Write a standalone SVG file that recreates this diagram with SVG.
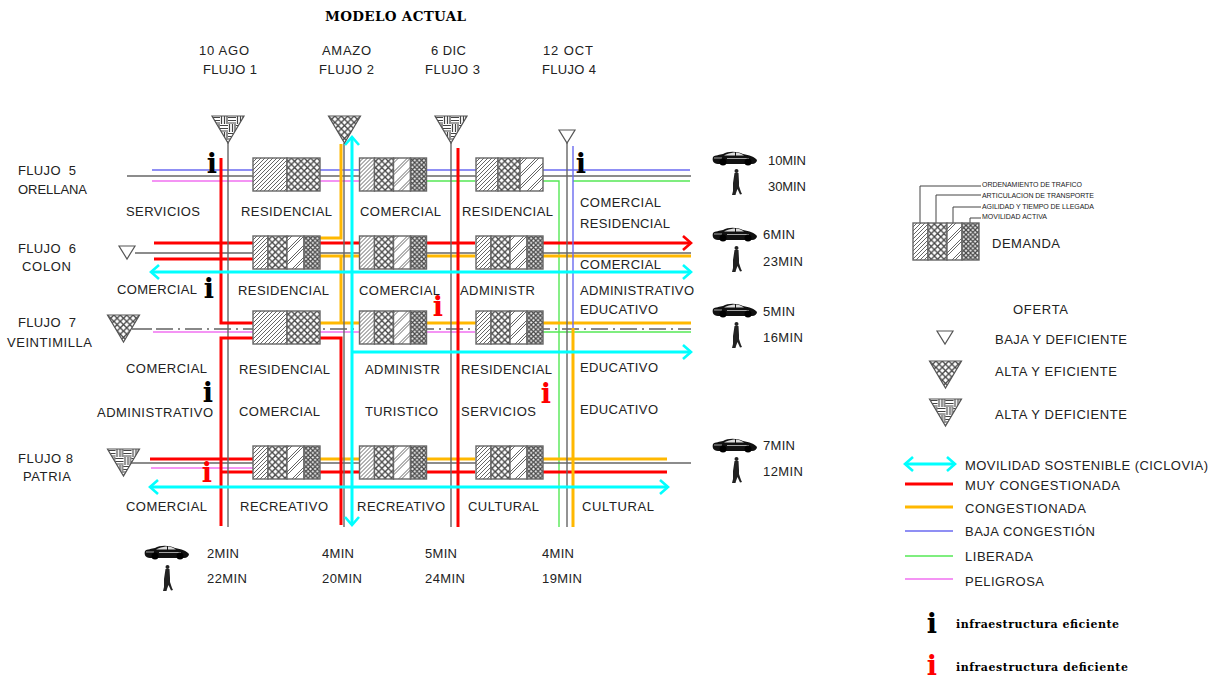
<svg xmlns="http://www.w3.org/2000/svg" width="1219" height="678" viewBox="0 0 1219 678">
<style>
text{font-family:"Liberation Sans",Arial,sans-serif;font-size:13px;fill:#222}
.ti{font-family:"DejaVu Serif","Liberation Serif",serif;font-weight:bold;font-size:11px;fill:#000}
.tt{font-size:13.5px}
.i{font-family:"DejaVu Serif","Liberation Serif",serif;font-weight:bold;font-size:27px;text-anchor:middle;fill:#000}
.ir{fill:#f00}
.sm{font-size:7px}
.l{fill:none}
.g{stroke:#666;stroke-width:1.4}
.gt{stroke:#888;stroke-width:2}
.r{stroke:#f00;stroke-width:3}
.o{stroke:#ffb800;stroke-width:3}
.c{stroke:#0ff;stroke-width:3}
.b{stroke:#6a6af0;stroke-width:1.4}
.v{stroke:#55e855;stroke-width:1.4}
.m{stroke:#f070f0;stroke-width:1.4}
.box{stroke:#666;stroke-width:1.4}
.tri{stroke:#555;stroke-width:1.2}
.ld{stroke:#444;stroke-width:1}
</style>
<defs>
<pattern id="hatch" width="4" height="4" patternUnits="userSpaceOnUse"><rect width="4" height="4" fill="#fff"/><path d="M-1 1L1 -1M0 4L4 0M3 5L5 3" stroke="#666" stroke-width="1"/></pattern>
<pattern id="wide" width="12" height="12" patternUnits="userSpaceOnUse"><rect width="12" height="12" fill="#fff"/><path d="M-1 1L1 -1M-1 13L13 -1M11 13L13 11M-1 4L4 -1M2 13L13 2" stroke="#666" stroke-width="1"/></pattern>
<pattern id="cross" width="6.400" height="6.400" patternUnits="userSpaceOnUse"><rect width="6.400" height="6.400" fill="#fff"/><path d="M0 0L6.400 6.400M0 6.400L6.400 0" stroke="#444" stroke-width="1.300"/></pattern>
<pattern id="dense" width="4.600" height="4.600" patternUnits="userSpaceOnUse"><rect width="4.600" height="4.600" fill="#eee"/><path d="M0 0L4.600 4.600M0 4.600L4.600 0" stroke="#444" stroke-width="1.200"/></pattern>
<pattern id="basket" width="16" height="16" patternUnits="userSpaceOnUse"><rect width="16" height="16" fill="#fff"/><path d="M0 1.500H8M0 4.500H8M0 7H8M9.500 0V8M12.500 0V8M15 0V8M1.500 8V16M4.500 8V16M7 8V16M8 9.500H16M8 12.500H16M8 15H16" stroke="#444" stroke-width="1.200"/></pattern>
<marker id="ar" markerUnits="userSpaceOnUse" markerWidth="14" markerHeight="18" viewBox="0 0 14 18" refX="12" refY="9" orient="auto-start-reverse"><path d="M4 2L12 9L4 16" fill="none" stroke="#f00" stroke-width="2.600"/></marker>
<marker id="ac" markerUnits="userSpaceOnUse" markerWidth="14" markerHeight="18" viewBox="0 0 14 18" refX="12" refY="9" orient="auto-start-reverse"><path d="M4 2L12 9L4 16" fill="none" stroke="#0ff" stroke-width="2.600"/></marker>
<g id="b4"><rect class="box" width="15" height="33" fill="url(#hatch)"/><rect class="box" x="15" width="19" height="33" fill="url(#cross)"/><rect class="box" x="34" width="17" height="33" fill="url(#wide)"/><rect class="box" x="51" width="16" height="33" fill="url(#dense)"/></g>
<g id="b2"><rect class="box" width="34" height="33" fill="url(#hatch)"/><rect class="box" x="34" width="33" height="33" fill="url(#cross)"/></g>
<g id="b3"><rect class="box" width="22" height="33" fill="url(#hatch)"/><rect class="box" x="22" width="22" height="33" fill="url(#cross)"/><rect class="box" x="44" width="23" height="33" fill="url(#wide)"/></g>
<path id="tA" class="tri" d="M0 0H32L16 27Z" fill="url(#cross)"/>
<path id="tB" class="tri" d="M0 0H32L16 27Z" fill="url(#basket)"/>
<path id="tC" class="tri" d="M0 0H16L8 13Z" fill="#fff"/>
<g id="car"><path d="M1 6C3 4 8 4 11 3C16 0 25 0 31 3C37 4 43 6 45 9C45 11 43 13 40 13H6C1 13 0 9 1 6Z" fill="#111"/><path d="M14 3.500C18 2 21 1.500 23 1.500V4.500H12ZM24 1.500C27 1.500 30 3 32 4.500H24Z" fill="#ddd"/><path d="M2 7H10M15 7.500H37" stroke="#ccc" stroke-width=".8"/><circle cx="11" cy="11" r="3.500" fill="#000"/><circle cx="36" cy="11" r="3.500" fill="#000"/></g>
<g id="ped"><circle cx="4.500" cy="2" r="2" fill="#222"/><path d="M2.500 4H6.500L7 13L7 17L9 23L10 25L8 25.500L5.500 20L4 24L3.500 26H0L1 22L1 14Z" fill="#222"/></g>
</defs>

<g id="connectors" class="l">
<path class="b" d="M152 170H690"/><path class="g" d="M127 176H691"/>
<path class="m" d="M152 181H360"/><path class="v" d="M360 181H475M543 181H559V527M573 181H690"/>
<path class="g" d="M135 253H691"/>
<path class="r" d="M154 243H253M154 259H253M320 243H475"/><path class="r" marker-end="url(#ar)" d="M543 243H691"/>
<path class="o" d="M320 256H475M543 256H691"/>
<path class="gt" d="M132 329H152"/>
<path class="gt" stroke-dasharray="17 5 2 5" d="M156 329H691"/>
<path class="m" d="M153 332H475"/><path class="v" d="M543 332H691"/>
<path class="o" d="M320 323H691"/>
<path class="g" d="M130 463H691"/>
<path class="r" d="M150 459H253M221 472H253M320 472H475M543 472H667"/>
<path class="m" d="M151 468H253"/>
<path class="o" d="M320 459H475M543 459H667"/>
<path class="g" d="M228 143V527M344 143V527M451 143V527M567 143V527"/>
<path class="r" d="M221 158V323H253M253 338H221V526M320 338H341V525M458 148V527"/>
<path class="o" d="M341 144V238H320M341 256V323M573 328V527"/>
<path class="b" d="M573 146V328"/>
<path class="c" marker-start="url(#ac)" marker-end="url(#ac)" d="M151 272H691"/>
<path class="c" marker-start="url(#ac)" marker-end="url(#ac)" d="M352 137V525"/>
<path class="c" marker-end="url(#ac)" d="M352 352H691"/>
<path class="c" marker-start="url(#ac)" marker-end="url(#ac)" d="M150 487H668"/>
</g>

<g id="blocks">
<use id="n11" href="#b2" x="253" y="158"/><use id="n12" href="#b4" x="359.500" y="158"/><use id="n13" href="#b3" x="476" y="158"/>
<use id="n21" href="#b4" x="253" y="236"/><use id="n22" href="#b4" x="359.500" y="236"/><use id="n23" href="#b4" x="476" y="236"/>
<use id="n31" href="#b2" x="253" y="311"/><use id="n32" href="#b4" x="359.500" y="311"/><use id="n33" href="#b4" x="476" y="311"/>
<use id="n41" href="#b4" x="253" y="446"/><use id="n42" href="#b4" x="359.500" y="446"/><use id="n43" href="#b4" x="476" y="446"/>
</g>
<g id="triangles">
<use href="#tB" x="212" y="116"/><use href="#tA" x="328.500" y="116"/><use href="#tB" x="435" y="116"/><use href="#tC" x="559" y="130"/>
<use href="#tC" x="119" y="246"/><use href="#tA" x="107.500" y="315"/><use href="#tB" x="107.500" y="449"/>
</g>

<g id="titles">
<text class="ti tt" x="325" y="21" textLength="141">MODELO ACTUAL</text>
<text x="199" y="55" textLength="50">10 AGO</text><text x="203" y="74" textLength="54">FLUJO 1</text>
<text x="322" y="55" textLength="49">AMAZO</text><text x="319" y="74" textLength="55">FLUJO 2</text>
<text x="431" y="55" textLength="35">6 DIC</text><text x="425" y="74" textLength="55">FLUJO 3</text>
<text x="543" y="55" textLength="50">12 OCT</text><text x="542" y="74" textLength="54">FLUJO 4</text>
<text x="18" y="175" textLength="58" xml:space="preserve">FLUJO  5</text><text x="18" y="194" textLength="69">ORELLANA</text>
<text x="18" y="253" textLength="58" xml:space="preserve">FLUJO  6</text><text x="22" y="271" textLength="49">COLON</text>
<text x="18" y="327" textLength="58" xml:space="preserve">FLUJO  7</text><text x="7" y="347" textLength="85">VEINTIMILLA</text>
<text x="18" y="463" textLength="55">FLUJO 8</text><text x="23" y="481" textLength="48">PATRIA</text>
</g>
<g id="cells">
<text x="126" y="216" textLength="74">SERVICIOS</text><text x="241" y="216" textLength="91">RESIDENCIAL</text><text x="360" y="216" textLength="81">COMERCIAL</text><text x="462" y="216" textLength="91">RESIDENCIAL</text>
<text x="580" y="207" textLength="81">COMERCIAL</text><text x="580" y="228" textLength="90">RESIDENCIAL</text><text x="580" y="269" textLength="81">COMERCIAL</text>
<text x="117" y="294" textLength="80">COMERCIAL</text><text x="238" y="295" textLength="91">RESIDENCIAL</text><text x="359" y="295" textLength="81">COMERCIAL</text><text x="460" y="295" textLength="75">ADMINISTR</text>
<text x="580" y="295" textLength="114">ADMINISTRATIVO</text><text x="580" y="314" textLength="78">EDUCATIVO</text>
<text x="126" y="373" textLength="81">COMERCIAL</text><text x="239" y="374" textLength="91">RESIDENCIAL</text><text x="365" y="374" textLength="75">ADMINISTR</text><text x="461" y="374" textLength="91">RESIDENCIAL</text><text x="580" y="372" textLength="78">EDUCATIVO</text>
<text x="97" y="417" textLength="116">ADMINISTRATIVO</text><text x="239" y="416" textLength="81">COMERCIAL</text><text x="365" y="416" textLength="73">TURISTICO</text><text x="461" y="416" textLength="75">SERVICIOS</text><text x="580" y="414" textLength="78">EDUCATIVO</text>
<text x="126" y="511" textLength="81">COMERCIAL</text><text x="240" y="511" textLength="88">RECREATIVO</text><text x="357" y="511" textLength="88">RECREATIVO</text><text x="468" y="511" textLength="71">CULTURAL</text><text x="582" y="511" textLength="72">CULTURAL</text>
</g>
<g id="infra">
<text class="i" x="212" y="173">i</text><text class="i" x="209" y="298">i</text><text class="i" x="208" y="402">i</text><text class="i" x="581" y="173">i</text>
<text class="i ir" x="438" y="316">i</text><text class="i ir" x="546" y="403">i</text><text class="i ir" x="207" y="482">i</text>
</g>
<g id="times">
<use href="#car" x="712" y="151"/><use href="#ped" x="732" y="169"/><text x="768" y="165" textLength="38">10MIN</text><text x="768" y="191" textLength="38">30MIN</text>
<use href="#car" x="712" y="227"/><use href="#ped" x="732" y="246"/><text x="763" y="239" textLength="32">6MIN</text><text x="763" y="266" textLength="40">23MIN</text>
<use href="#car" x="712" y="303"/><use href="#ped" x="732" y="322"/><text x="763" y="316" textLength="32">5MIN</text><text x="763" y="342" textLength="40">16MIN</text>
<use href="#car" x="712" y="438"/><use href="#ped" x="732" y="457"/><text x="763" y="450" textLength="32">7MIN</text><text x="763" y="476" textLength="40">12MIN</text>
<use href="#car" x="144" y="545"/><use href="#ped" x="163" y="565"/>
<text x="207" y="558" textLength="32">2MIN</text><text x="207" y="583" textLength="40">22MIN</text>
<text x="322" y="558" textLength="32">4MIN</text><text x="322" y="583" textLength="40">20MIN</text>
<text x="425" y="558" textLength="32">5MIN</text><text x="425" y="583" textLength="40">24MIN</text>
<text x="542" y="558" textLength="32">4MIN</text><text x="542" y="583" textLength="40">19MIN</text>
</g>
<g id="legend">
<path class="ld l" d="M920 223V186H981M936 223V195H981M953 223V207H981M970 223V218H981"/>
<rect class="box" x="913" y="223" width="15" height="37" fill="url(#hatch)"/><rect class="box" x="928" y="223" width="19" height="37" fill="url(#cross)"/><rect class="box" x="947" y="223" width="15" height="37" fill="url(#wide)"/><rect class="box" x="962" y="223" width="17" height="37" fill="url(#dense)"/>
<text class="sm" x="982" y="187" textLength="100">ORDENAMIENTO DE TRAFICO</text>
<text class="sm" x="982" y="198" textLength="112">ARTICULACION DE TRANSPORTE</text>
<text class="sm" x="982" y="209" textLength="112">AGILIDAD Y TIEMPO DE LLEGADA</text>
<text class="sm" x="982" y="219" textLength="65">MOVILIDAD ACTIVA</text>
<text x="992" y="248" textLength="68">DEMANDA</text>
<text x="1013" y="314" textLength="55">OFERTA</text>
<use href="#tC" x="937" y="331"/><text x="995" y="344" textLength="132">BAJA Y DEFICIENTE</text>
<use href="#tA" x="929.500" y="361"/><text x="995" y="376" textLength="122">ALTA Y EFICIENTE</text>
<use href="#tB" x="929.500" y="399"/><text x="995" y="419" textLength="132">ALTA Y DEFICIENTE</text>
<path class="c l" marker-start="url(#ac)" marker-end="url(#ac)" d="M905 464H955"/><text x="965" y="470" textLength="243">MOVILIDAD SOSTENIBLE (CICLOVIA)</text>
<path class="r l" d="M905 484H953"/><text x="965" y="490" textLength="155">MUY CONGESTIONADA</text>
<path class="o l" d="M905 507H953"/><text x="965" y="513" textLength="121">CONGESTIONADA</text>
<path class="b l" d="M905 531H953"/><text x="965" y="536" textLength="130">BAJA CONGESTIÓN</text>
<path class="v l" d="M905 556H953"/><text x="965" y="561" textLength="68">LIBERADA</text>
<path class="m l" d="M905 579H953"/><text x="965" y="586" textLength="79">PELIGROSA</text>
<text class="i" x="932" y="633">i</text><text class="ti" x="956" y="628" textLength="163">infraestructura eficiente</text>
<text class="i ir" x="932" y="675">i</text><text class="ti" x="956" y="671" textLength="172">infraestructura deficiente</text>
</g>
</svg>
